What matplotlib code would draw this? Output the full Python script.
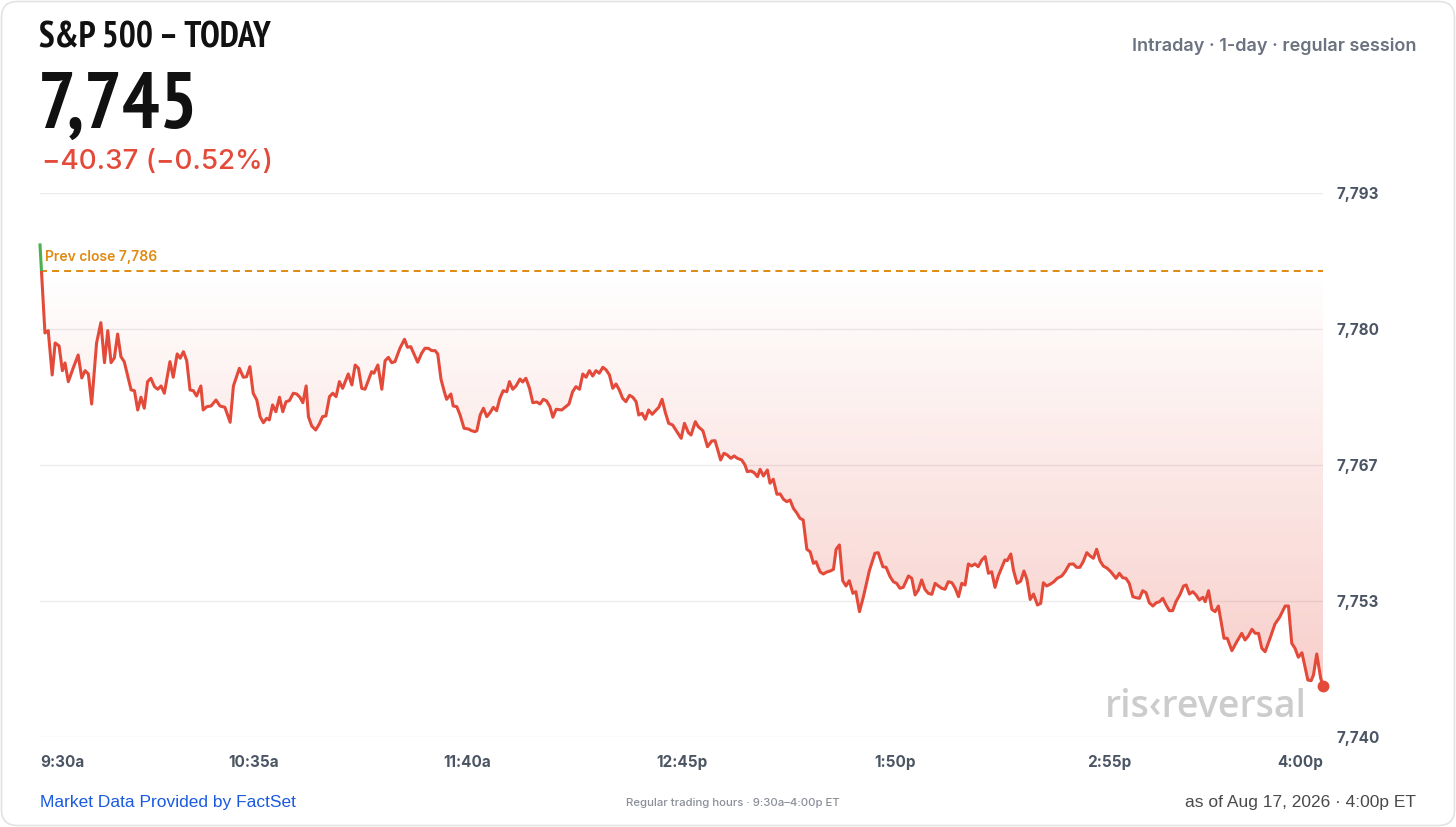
import numpy as np
import matplotlib.pyplot as plt
import matplotlib.font_manager as fm
from matplotlib.patches import FancyBboxPatch, Rectangle
from matplotlib.transforms import IdentityTransform

# minutes after the 9:30 open
minutes = [
    0, 1.5, 2.5, 3.7, 4.6, 5.8, 6.8, 7.6, 8.6, 10.1,
    11.6, 12.7, 13.7, 14.7, 15.7, 17.2, 18.5, 19.6, 20.6, 21.6,
    22.6, 23.6, 24.6, 25.6, 27.7, 28.7, 29.7, 30.7, 31.7, 32.7,
    33.7, 34.8, 35.8, 36.8, 37.8, 39.5, 40.5, 41.7, 42.6, 43.6,
    44.6, 45.6, 46.6, 47.6, 48.9, 49.6, 50.7, 52.0, 53.5, 54.7,
    56.2, 57.8, 58.8, 60.6, 61.8, 62.8, 63.8, 64.8, 65.9, 66.9,
    67.9, 68.9, 69.7, 70.7, 71.7, 72.8, 73.8, 74.8, 75.8, 77.0,
    78.0, 79.0, 79.9, 80.9, 81.6, 82.6, 83.8, 84.9, 85.9, 86.9,
    88.0, 89.0, 90.0, 91.0, 92.0, 93.7, 94.8, 95.8, 96.8, 97.8,
    98.8, 100.8, 101.5, 102.7, 103.9, 104.9, 105.9, 106.9, 107.9, 109.4,
    110.8, 111.7, 112.7, 114.8, 116.0, 117.0, 118.0, 119.1, 120.1, 120.9,
    121.9, 122.9, 123.6, 124.9, 125.6, 126.7, 127.7, 128.9, 130.2, 131.2,
    132.2, 132.8, 133.8, 134.8, 135.8, 136.8, 137.8, 138.8, 139.8, 140.8,
    141.9, 142.7, 143.7, 144.7, 145.9, 146.7, 147.7, 148.8, 149.8, 151.0,
    152.0, 153.0, 154.0, 155.0, 155.9, 156.9, 158.6, 159.6, 160.8, 161.9,
    162.9, 164.0, 165.0, 166.0, 167.0, 168.0, 169.0, 170.0, 171.1, 172.1,
    173.1, 174.1, 175.1, 176.1, 177.1, 178.1, 179.2, 180.2, 181.2, 182.0,
    183.0, 184.0, 185.0, 186.1, 187.1, 188.1, 189.1, 190.1, 191.1, 192.3,
    193.6, 194.9, 195.9, 197.1, 197.9, 199.2, 200.1, 201.5, 202.9, 204.2,
    205.2, 206.9, 207.9, 208.9, 210.0, 211.0, 212.0, 213.3, 214.3, 215.0,
    216.1, 217.1, 218.1, 218.9, 219.9, 221.1, 221.9, 222.9, 224.0, 225.0,
    226.0, 227.0, 228.0, 229.0, 230.0, 231.0, 232.0, 233.1, 234.1, 235.1,
    235.9, 237.1, 238.1, 239.2, 240.2, 241.2, 242.0, 243.0, 244.0, 245.0,
    246.0, 247.1, 248.0, 249.1, 250.3, 252.1, 253.8, 254.8, 256.2, 257.2,
    258.4, 259.4, 260.4, 261.4, 262.4, 264.0, 265.0, 266.0, 267.0, 268.0,
    269.0, 270.0, 271.1, 272.1, 273.1, 274.1, 275.1, 276.1, 277.2, 278.2,
    279.2, 280.2, 281.2, 282.2, 283.2, 284.2, 285.2, 286.3, 287.3, 288.3,
    289.3, 290.3, 291.3, 293.3, 294.0, 295.1, 295.9, 297.0, 298.1, 299.1,
    300.0, 301.0, 302.0, 303.2, 304.2, 305.0, 306.0, 307.2, 308.2, 309.2,
    310.6, 311.6, 312.9, 314.1, 315.1, 316.1, 317.1, 318.2, 319.2, 320.2,
    321.2, 322.2, 323.2, 324.4, 325.5, 326.3, 327.1, 328.1, 329.1, 330.1,
    331.1, 332.2, 333.2, 334.2, 335.2, 336.2, 337.2, 338.3, 339.3, 340.3,
    341.3, 342.3, 343.3, 344.3, 345.3, 346.6, 347.6, 348.4, 349.4, 350.4,
    351.4, 352.4, 353.5, 354.2, 355.2, 356.2, 357.2, 358.2, 359.9, 360.9,
    362.3, 363.8, 365.3, 366.3, 367.3, 368.4, 369.4, 370.4, 371.4, 372.4,
    373.9, 375.4, 376.8, 378.5, 379.5, 380.5, 381.5, 382.5, 383.6, 385.4,
    386.4, 387.1, 388.1, 389.3, 390.0,
]

prices = [
    7787.94, 7779.36, 7779.59, 7775.27, 7778.39, 7778.10, 7775.69, 7776.44, 7774.62, 7775.95,
    7777.22, 7774.98, 7775.69, 7775.37, 7772.44, 7778.39, 7780.37, 7776.47, 7779.59, 7776.47,
    7776.93, 7779.26, 7777.05, 7776.57, 7773.81, 7773.74, 7771.86, 7773.10, 7772.03, 7774.62,
    7774.95, 7774.13, 7773.88, 7774.20, 7773.49, 7776.57, 7775.05, 7777.32, 7776.90, 7777.54,
    7776.66, 7773.81, 7773.74, 7773.22, 7774.20, 7771.86, 7772.18, 7772.25, 7772.83, 7772.25,
    7772.12, 7770.66, 7774.20, 7775.92, 7775.05, 7775.10, 7776.08, 7773.49, 7772.83, 7771.21,
    7770.62, 7771.05, 7770.89, 7772.35, 7771.69, 7773.10, 7771.69, 7772.67, 7772.77, 7773.49,
    7773.42, 7773.10, 7772.57, 7774.20, 7771.21, 7770.30, 7769.91, 7770.50, 7771.21, 7771.28,
    7773.16, 7773.49, 7773.16, 7774.62, 7773.97, 7775.37, 7774.30, 7776.24, 7775.92, 7773.97,
    7773.88, 7775.59, 7775.44, 7776.24, 7773.88, 7776.66, 7776.99, 7776.47, 7776.57, 7777.87,
    7778.75, 7777.97, 7778.03, 7776.51, 7777.38, 7777.87, 7777.87, 7777.64, 7777.64, 7777.32,
    7774.85, 7773.64, 7772.90, 7773.42, 7772.25, 7772.18, 7771.37, 7770.08, 7770.01, 7769.84,
    7769.75, 7769.84, 7771.37, 7772.03, 7771.21, 7771.60, 7772.12, 7771.79, 7773.00, 7773.74,
    7773.64, 7774.62, 7773.88, 7774.20, 7774.88, 7774.59, 7774.95, 7773.97, 7772.57, 7772.64,
    7772.44, 7772.90, 7772.74, 7772.18, 7771.15, 7771.93, 7771.86, 7772.12, 7772.44, 7773.64,
    7774.13, 7773.88, 7775.37, 7775.05, 7775.69, 7775.17, 7775.69, 7775.44, 7776.02, 7775.76,
    7775.27, 7773.97, 7774.39, 7773.81, 7773.00, 7772.67, 7773.29, 7773.10, 7772.67, 7771.37,
    7771.54, 7770.95, 7771.86, 7771.44, 7771.79, 7772.12, 7772.90, 7771.60, 7770.56, 7770.40,
    7769.75, 7769.10, 7770.56, 7769.65, 7769.42, 7770.72, 7770.23, 7769.84, 7768.28, 7768.84,
    7768.87, 7766.99, 7767.64, 7767.48, 7767.15, 7767.38, 7767.15, 7766.99, 7766.50, 7765.85,
    7765.92, 7765.75, 7765.36, 7766.08, 7765.43, 7766.01, 7764.72, 7765.11, 7763.65, 7763.68,
    7763.16, 7762.93, 7763.09, 7762.28, 7761.85, 7761.31, 7761.14, 7758.29, 7758.05, 7756.92,
    7757.08, 7756.10, 7755.88, 7756.08, 7756.17, 7756.34, 7758.29, 7758.71, 7755.23, 7754.71,
    7755.23, 7754.00, 7754.16, 7752.21, 7753.67, 7756.20, 7757.90, 7757.96, 7756.59, 7756.53,
    7755.62, 7755.13, 7754.97, 7754.49, 7754.58, 7755.69, 7755.46, 7753.84, 7754.32, 7755.30,
    7754.39, 7754.00, 7753.90, 7754.97, 7754.71, 7754.49, 7754.39, 7755.13, 7755.03, 7754.49,
    7753.67, 7754.97, 7754.81, 7756.86, 7756.66, 7756.86, 7756.59, 7757.25, 7757.57, 7755.95,
    7756.10, 7754.58, 7755.69, 7757.25, 7757.18, 7757.83, 7756.27, 7754.97, 7755.18, 7756.17,
    7755.35, 7753.40, 7753.93, 7752.86, 7753.03, 7755.03, 7754.71, 7754.91, 7755.13, 7755.46,
    7755.69, 7756.10, 7756.83, 7756.86, 7756.53, 7756.53, 7757.08, 7757.96, 7757.64, 7757.41,
    7758.29, 7757.18, 7756.66, 7756.44, 7756.10, 7755.78, 7755.46, 7755.95, 7755.52, 7755.46,
    7754.97, 7753.67, 7753.57, 7753.51, 7754.25, 7754.06, 7753.08, 7752.76, 7753.08, 7753.18,
    7753.51, 7752.86, 7752.31, 7752.31, 7753.18, 7753.93, 7754.71, 7754.81, 7753.93, 7754.16,
    7753.84, 7753.35, 7753.61, 7753.18, 7754.25, 7752.44, 7752.21, 7752.76, 7749.62, 7749.62,
    7748.41, 7749.29, 7750.10, 7749.45, 7749.84, 7750.49, 7750.10, 7750.10, 7748.64, 7748.31,
    7749.62, 7751.01, 7751.66, 7752.76, 7752.76, 7749.13, 7748.64, 7747.77, 7748.21, 7745.55,
    7745.49, 7746.04, 7748.09, 7745.72, 7745.00,
]

prev_close = 7785.37
y_ticks = [7740, 7753.25, 7766.5, 7779.75, 7793]
y_tick_labels = ["7,740", "7,753", "7,767", "7,780", "7,793"]
x_ticks = [0, 65, 130, 195, 260, 325, 390]
x_tick_labels = ["9:30a", "10:35a", "11:40a", "12:45p", "1:50p", "2:55p", "4:00p"]

RED = "#e34a3a"
GREEN = "#4cb050"
ORANGE = "#e08a12"
AXIS_GRAY = "#4b5563"

W, H = 1456, 827
fig = plt.figure(figsize=(W / 100, H / 100), dpi=100)
fig.patch.set_facecolor("white")


def fx(px):
    return px / W


def fy(py):
    return 1 - py / H


def narrow_bold_font():
    # look for an installed condensed / narrow bold face for the headline
    picks = []
    for f in fm.fontManager.ttflist:
        name = (f.name + " " + f.fname).lower()
        w = f.weight if isinstance(f.weight, int) else fm.weight_dict.get(f.weight, 400)
        narrow = ("narrow" in name or "condensed" in name
                  or f.stretch in ("condensed", "semi-condensed", "extra-condensed"))
        if narrow and w >= 600:
            picks.append((0 if "narrow" in name else 1, f.fname))
    if picks:
        picks.sort()
        return fm.FontProperties(fname=picks[0][1])
    return fm.FontProperties(family="DejaVu Sans", weight="bold")


def fit_width(txt, target_px):
    fig.canvas.draw()
    bb = txt.get_window_extent(fig.canvas.get_renderer())
    txt.set_fontsize(txt.get_fontsize() * target_px / bb.width)


# card outline
card = FancyBboxPatch((1.5, 1.5), W - 3, H - 3, boxstyle="round,pad=0,rounding_size=16",
                      transform=IdentityTransform(), facecolor="white",
                      edgecolor="#e3e3e3", linewidth=1.2, zorder=0)
fig.add_artist(card)

ax = fig.add_axes([fx(40), fy(737), (1323 - 40) / W, (737 - 193) / H])
ax.set_facecolor("none")
ax.set_xlim(0, 390)
ax.set_ylim(7740, 7793)
for s in ax.spines.values():
    s.set_visible(False)

ax.set_yticks(y_ticks)
ax.set_yticklabels(y_tick_labels)
ax.yaxis.tick_right()
ax.tick_params(axis="y", length=0, pad=9.5, labelsize=11, labelcolor=AXIS_GRAY)
ax.grid(axis="y", color="#ebebeb", lw=1)
ax.set_axisbelow(True)

ax.set_xticks(x_ticks)
ax.set_xticklabels(x_tick_labels)
ax.tick_params(axis="x", length=0, pad=13, labelsize=11, labelcolor=AXIS_GRAY)
for lab in ax.get_xticklabels() + ax.get_yticklabels():
    lab.set_fontweight("bold")
    lab.set_fontfamily("Inter")
xl = ax.get_xticklabels()
xl[0].set_ha("left")
xl[-1].set_ha("right")

# gradient fill between the price line and previous close
poly = ax.fill_between(minutes, prices, prev_close, color="none", lw=0)
rgb = np.array([227, 74, 58]) / 255
grad = np.zeros((256, 1, 4))
grad[..., :3] = rgb
grad[:, 0, 3] = np.linspace(0.30, 0.0, 256)
im = ax.imshow(grad, extent=[0, 390, 7740, prev_close], origin="lower",
               aspect="auto", zorder=1, interpolation="bilinear")
im.set_clip_path(poly.get_paths()[0], transform=ax.transData)

# previous close
ax.axhline(prev_close, color=ORANGE, lw=1.4, dashes=(3.6, 2.6), zorder=2)
fig.text(fx(45), fy(257), "Prev close 7,786", color=ORANGE, fontsize=10,
         fontweight="semibold", family="Inter", va="center", ha="left")

# price line: red below prev close, green above
below = Rectangle((-20, 7700), 430, prev_close - 7700, transform=ax.transData)
above = Rectangle((-20, prev_close), 430, 100, transform=ax.transData)
red_line, = ax.plot(minutes, prices, color=RED, lw=2.2, zorder=3, solid_joinstyle="round")
red_line.set_clip_path(below)
green_line, = ax.plot(minutes, prices, color=GREEN, lw=2.2, zorder=3, solid_joinstyle="round")
green_line.set_clip_path(above)
ax.plot(minutes[-1], prices[-1], "o", color=RED, ms=7.5, zorder=4, clip_on=False)

# watermark
fig.text(fx(1206), fy(707), "ris‹reversal", color="#cccccc", fontsize=27,
         family="Open Sans", fontweight="semibold", ha="center", va="center", zorder=5)

# header
head_font = narrow_bold_font()
title = fig.text(fx(39), fy(38), "S&P 500 – TODAY", fontproperties=head_font,
                 fontsize=28, color="#111111", va="center", ha="left")
big = fig.text(fx(38), fy(108), "7,745", fontproperties=head_font,
               fontsize=58, color="#111111", va="center", ha="left")
fit_width(title, 232)
fit_width(big, 160)
fig.text(fx(42), fy(162), "−40.37 (−0.52%)", fontsize=20, color=RED,
         family="Inter", fontweight="medium", va="center", ha="left")
fig.text(fx(1416), fy(46), "Intraday · 1-day · regular session", fontsize=13,
         color="#6b7280", family="Inter", fontweight="semibold", va="center", ha="right")

# footer
fig.text(fx(40), fy(802), "Market Data Provided by FactSet", fontsize=12.5,
         color="#1a5ae0", family="Liberation Sans", va="center", ha="left")
fig.text(fx(733), fy(803), "Regular trading hours · 9:30a–4:00p ET", fontsize=8.2,
         color="#8a8f98", family="Inter", fontweight="medium", va="center", ha="center")
fig.text(fx(1416), fy(802), "as of Aug 17, 2026 · 4:00p ET", fontsize=12.5,
         color="#4a4a4a", family="Liberation Sans", va="center", ha="right")

fig.savefig("out.png", dpi=100, facecolor="white")
